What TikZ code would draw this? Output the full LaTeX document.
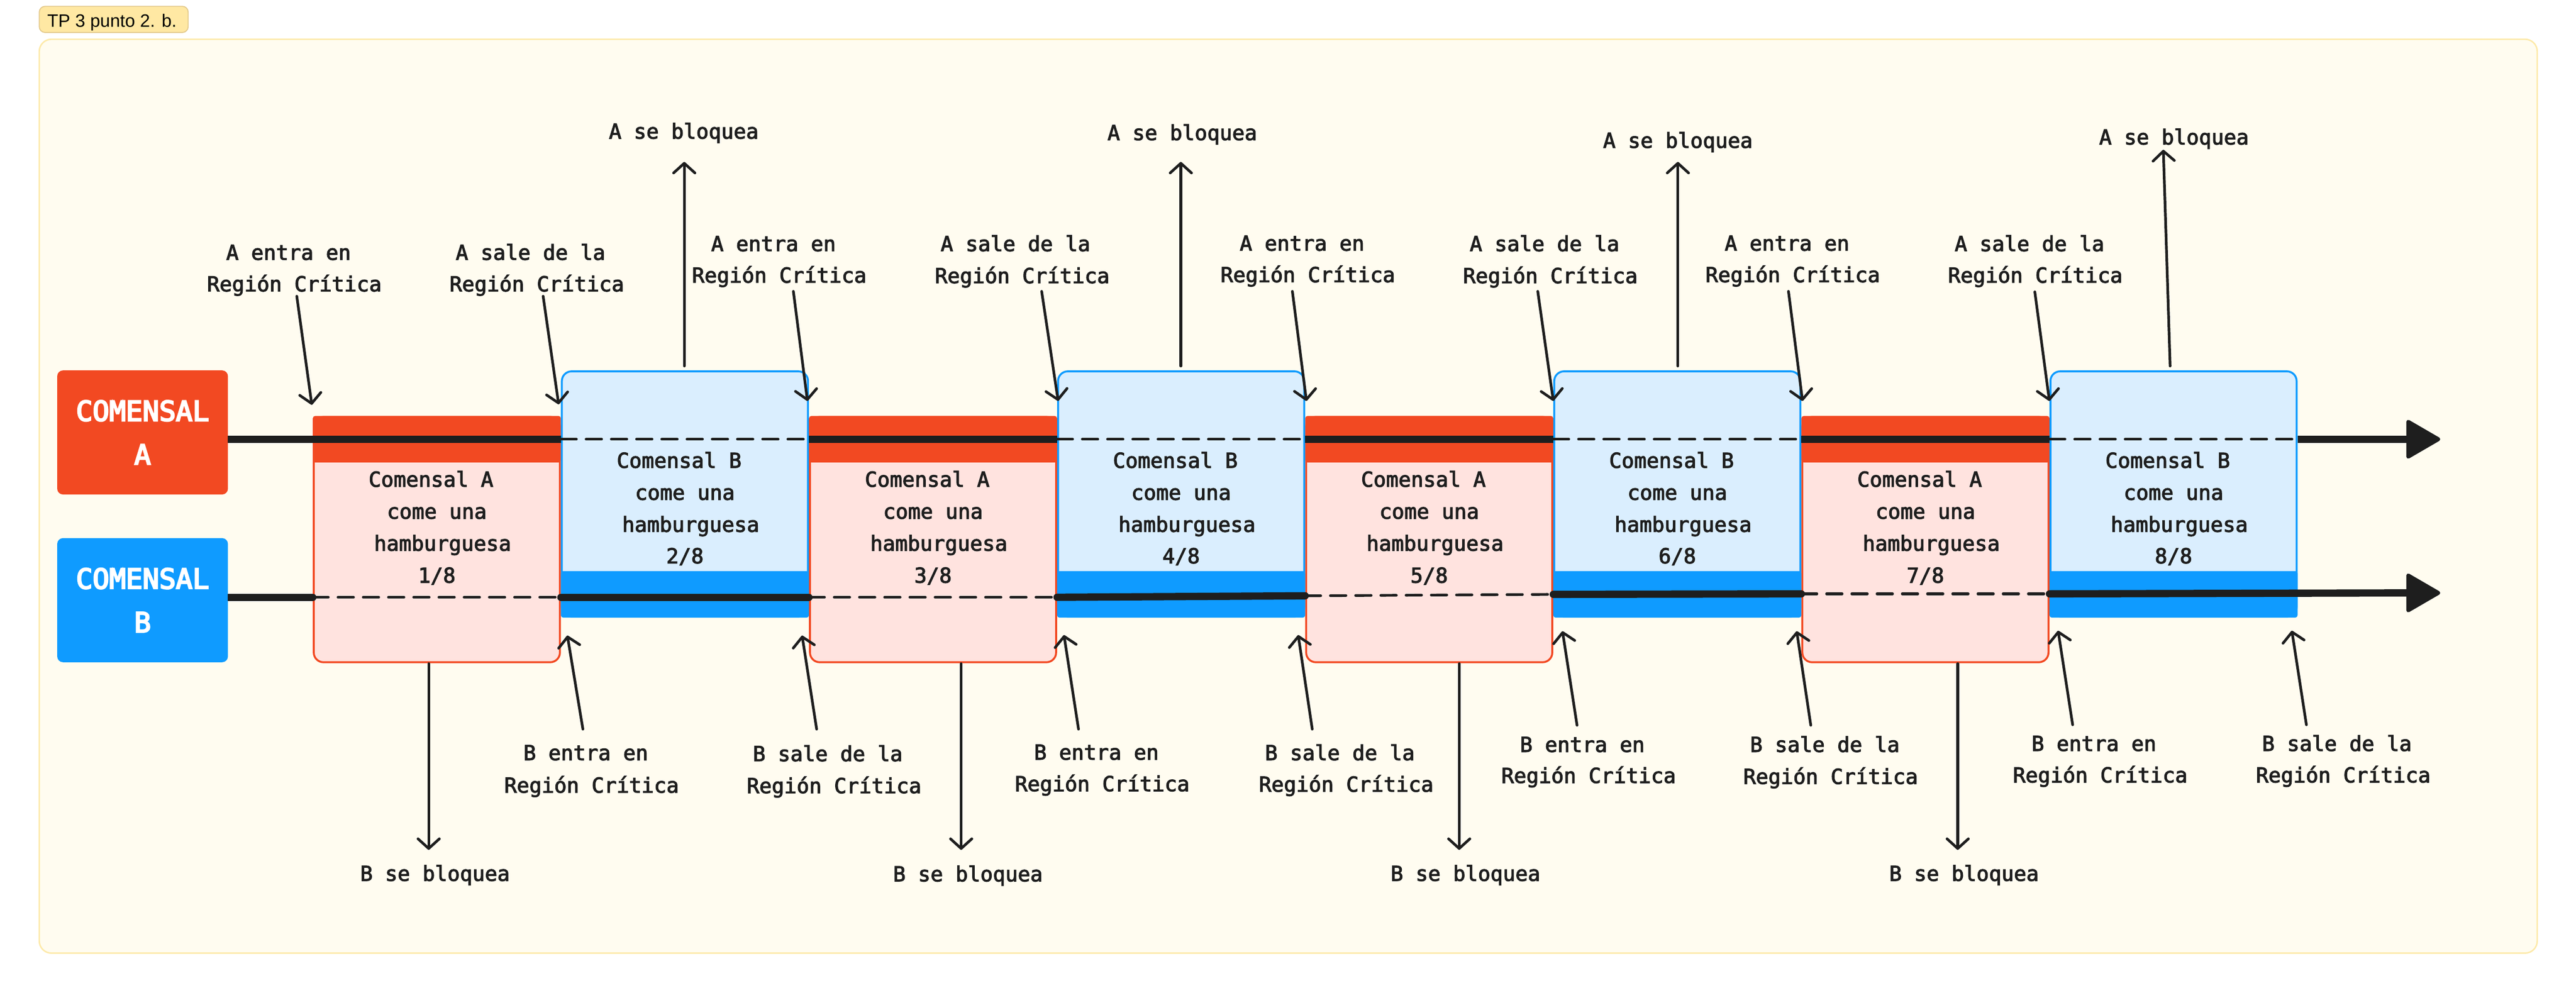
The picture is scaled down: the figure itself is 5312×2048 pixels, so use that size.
\documentclass[tikz,border=0pt]{standalone}
\usepackage{fontspec}
\usetikzlibrary{arrows.meta}
\newfontfamily\monof[RawFeature={embolden=3}]{DejaVu Sans Mono}
\newfontfamily\monoh[RawFeature={embolden=5}]{DejaVu Sans Mono}
\newfontfamily\tagf{Liberation Sans}
\definecolor{redc}{HTML}{F24922}
\definecolor{pinkc}{HTML}{FFE3DF}
\definecolor{bluec}{HTML}{0F9BFF}
\definecolor{lbluec}{HTML}{DAEEFE}
\definecolor{darkc}{HTML}{1E1E1E}
\definecolor{creamc}{HTML}{FFFCF0}
\definecolor{panelb}{HTML}{FDEAAA}
\definecolor{tagfill}{HTML}{FFE8A3}
\definecolor{tagdraw}{HTML}{E3C98C}
\begin{document}
\begin{tikzpicture}[x=1pt,y=-1pt,
  mono/.style={font=\monof\fontsize{42.7pt}{65pt}\selectfont, text=darkc, inner sep=0pt, anchor=base},
  callout/.style={draw=darkc, line width=5.5pt, line cap=round, -{Straight Barb[length=20pt,width=44pt,round]}},
  solidA/.style={draw=darkc, line width=15pt},
  solidB/.style={draw=darkc, line width=15pt, line cap=round},
  waitline/.style={draw=darkc, line width=5.5pt, line cap=round, dash pattern=on 32pt off 20pt},
  headtip/.style={fill=darkc, draw=darkc, line width=8pt, line join=round},
  comlabel/.style={rounded corners=12pt, minimum width=352pt, minimum height=256pt, inner sep=0pt, text=white, align=center, font=\monoh\fontsize{57pt}{90pt}\selectfont},
  redbox/.style={fill=pinkc, draw=redc, line width=4pt, rounded corners=20pt},
  bluebox/.style={fill=lbluec, draw=bluec, line width=4pt, rounded corners=20pt},
]
\useasboundingbox (0,0) rectangle (5312,2048);
\fill[white] (0,0) rectangle (5312,2048);
% panel
\filldraw[fill=creamc, draw=panelb, line width=3pt, rounded corners=25pt] (81,81) rectangle (5232,1966);
% tag
\node[draw=tagdraw, fill=tagfill, line width=2pt, rounded corners=12pt, minimum width=307pt, minimum height=54pt, inner sep=0pt] (tag) at (234.5,40) {};
\node[font=\tagf\fontsize{37pt}{44pt}\selectfont, anchor=base, inner sep=0pt] (tagtext) at (231,56) {TP 3 punto 2. b.};
% labels of the two diners
\node[comlabel, fill=redc] (COMA) at (294,892) {COMENSAL\\A};
\node[comlabel, fill=bluec] (COMB) at (294,1238) {COMENSAL\\B};
% red boxes (A eats)
\foreach \i in {1,3,5,7} {
  \pgfmathsetmacro\L{645+(\i-1)*511.6}
  \pgfmathsetmacro\R{\L+511.6}
  \pgfmathsetmacro\C{\L+255.8}
  \filldraw[redbox] (\L+2,860) rectangle (\R-2,1366);
  \fill[redc, rounded corners=5pt] (\L,858) rectangle (\R,954);
  \node[mono] (ta\i) at (\C-12,1004) {Comensal A};
  \node[mono] (tb\i) at (\C,1070) {come una};
  \node[mono] (tc\i) at (\C+12,1136) {hamburguesa};
  \node[mono] (td\i) at (\C,1202) {\i/8};
}
% blue boxes (B eats)
\foreach \i in {2,4,6,8} {
  \pgfmathsetmacro\L{645+(\i-1)*511.6}
  \pgfmathsetmacro\R{\L+511.6}
  \pgfmathsetmacro\C{\L+255.8}
  \filldraw[bluebox] (\L+2,766) rectangle (\R-2,1272);
  \fill[bluec, rounded corners=5pt] (\L,1178) rectangle (\R,1274);
  \node[mono] (ta\i) at (\C-12,965) {Comensal B};
  \node[mono] (tb\i) at (\C,1031) {come una};
  \node[mono] (tc\i) at (\C+12,1097) {hamburguesa};
  \node[mono] (td\i) at (\C,1162) {\i/8};
}
% timeline A
\coordinate (a0) at (470,906);
\coordinate (a1) at (1156.6,906);
\coordinate (a2) at (1668.2,906);
\coordinate (a3) at (2179.8,906);
\coordinate (a4) at (2691.4,906);
\coordinate (a5) at (3203,906);
\coordinate (a6) at (3714.6,906);
\coordinate (a7) at (4226.2,906);
\coordinate (a8) at (4737.8,906);
\coordinate (aend) at (4966,906);
\draw[solidA] (a0) -- (a1);
\draw[waitline] (a1) -- (a2);
\draw[solidA] (a2) -- (a3);
\draw[waitline] (a3) -- (a4);
\draw[solidA] (a4) -- (a5);
\draw[waitline] (a5) -- (a6);
\draw[solidA] (a6) -- (a7);
\draw[waitline] (a7) -- (a8);
\draw[solidA] (a8) -- (aend);
\filldraw[headtip] (4966,870) -- (5028,906) -- (4966,942) -- cycle;
% timeline B
\coordinate (b0) at (470,1232);
\coordinate (b0r) at (490,1232);
\coordinate (b1) at (645,1232);
\coordinate (b2) at (1156.6,1232);
\coordinate (b3) at (1668.2,1232);
\coordinate (b4) at (2179.8,1232);
\coordinate (b5) at (2691.4,1229);
\coordinate (b6) at (3203,1226);
\coordinate (b7) at (3714.6,1225);
\coordinate (b8) at (4226.2,1225);
\coordinate (bend) at (4966,1223);
\draw[solidA] (b0) -- (b0r);
\draw[solidB] (b0r) -- (b1);
\draw[waitline] (b1) -- (b2);
\draw[solidB] (b2) -- (b3);
\draw[waitline] (b3) -- (b4);
\draw[solidB] (b4) -- (b5);
\draw[waitline] (b5) -- (b6);
\draw[solidB] (b6) -- (b7);
\draw[waitline] (b7) -- (b8);
\draw[solidB] (b8) -- (bend);
\filldraw[headtip] (4966,1187) -- (5028,1223) -- (4966,1259) -- cycle;
% labels top
\node[mono] (AE1) at (595,536) {A entra en};
\node[mono] (AE1b) at (607,601) {Región Crítica};
\node[mono] (AS1) at (1094,536) {A sale de la};
\node[mono] (AS1b) at (1107,601) {Región Crítica};
\node[mono] (AB1) at (1410,286) {A se bloquea};
\node[mono] (AE2) at (1595,518) {A entra en};
\node[mono] (AE2b) at (1607,583) {Región Crítica};
\node[mono] (AS2) at (2094,518) {A sale de la};
\node[mono] (AS2b) at (2108,584) {Región Crítica};
\node[mono] (AB2) at (2438,289) {A se bloquea};
\node[mono] (AE3) at (2685,517) {A entra en};
\node[mono] (AE3b) at (2697,582) {Región Crítica};
\node[mono] (AS3) at (3185,518) {A sale de la};
\node[mono] (AS3b) at (3197,584) {Región Crítica};
\node[mono] (AB3) at (3460,305) {A se bloquea};
\node[mono] (AE4) at (3685,517) {A entra en};
\node[mono] (AE4b) at (3697,582) {Región Crítica};
\node[mono] (AS4) at (4185,518) {A sale de la};
\node[mono] (AS4b) at (4197,583) {Región Crítica};
\node[mono] (AB4) at (4483,298) {A se bloquea};
% labels bottom
\node[mono] (BE1) at (1208,1568) {B entra en};
\node[mono] (BE1b) at (1220,1635) {Región Crítica};
\node[mono] (BS1) at (1707,1570) {B sale de la};
\node[mono] (BS1b) at (1720,1636) {Región Crítica};
\node[mono] (BB1) at (897,1817) {B se bloquea};
\node[mono] (BE2) at (2261,1567) {B entra en};
\node[mono] (BE2b) at (2273,1632) {Región Crítica};
\node[mono] (BS2) at (2763,1568) {B sale de la};
\node[mono] (BS2b) at (2776,1633) {Región Crítica};
\node[mono] (BB2) at (1996,1818) {B se bloquea};
\node[mono] (BE3) at (3263,1551) {B entra en};
\node[mono] (BE3b) at (3276,1615) {Región Crítica};
\node[mono] (BS3) at (3763,1551) {B sale de la};
\node[mono] (BS3b) at (3775,1617) {Región Crítica};
\node[mono] (BB3) at (3022,1817) {B se bloquea};
\node[mono] (BE4) at (4318,1549) {B entra en};
\node[mono] (BE4b) at (4331,1614) {Región Crítica};
\node[mono] (BS4) at (4819,1549) {B sale de la};
\node[mono] (BS4b) at (4832,1614) {Región Crítica};
\node[mono] (BB4) at (4050,1817) {B se bloquea};
% callout arrows
\foreach \nm/\sx/\sy/\ex/\ey in {
  ae1/612/611/643/835, as1/1120/611/1152/834,
  ae2/1636/601/1665/827, as2/2148/601/2182/827,
  ae3/2665/601/2694/827, as3/3171/601/3203/827,
  ae4/3688/601/3717/827, as4/4196/602/4226/827,
  ab1/1411/755/1411/334, ab2/2435/755/2435/334,
  ab3/3460/755/3460/334, ab4/4475/755/4461/309,
  be1/1202/1504/1170/1311, bs1/1684/1504/1654/1311,
  be2/2224/1504/2194/1310, bs2/2706/1504/2677/1310,
  be3/3252/1496/3222/1302, bs3/3734/1496/3705/1302,
  be4/4274/1495/4244/1301, bs4/4756/1495/4726/1301,
  bb1/884/1369/884/1753, bb2/1982/1369/1982/1753,
  bb3/3009/1369/3009/1753, bb4/4037/1369/4037/1753} {
  \coordinate (\nm s) at (\sx,\sy);
  \coordinate (\nm e) at (\ex,\ey);
  \draw[callout] (\nm s) -- (\nm e);
}
\end{tikzpicture}
\end{document}
